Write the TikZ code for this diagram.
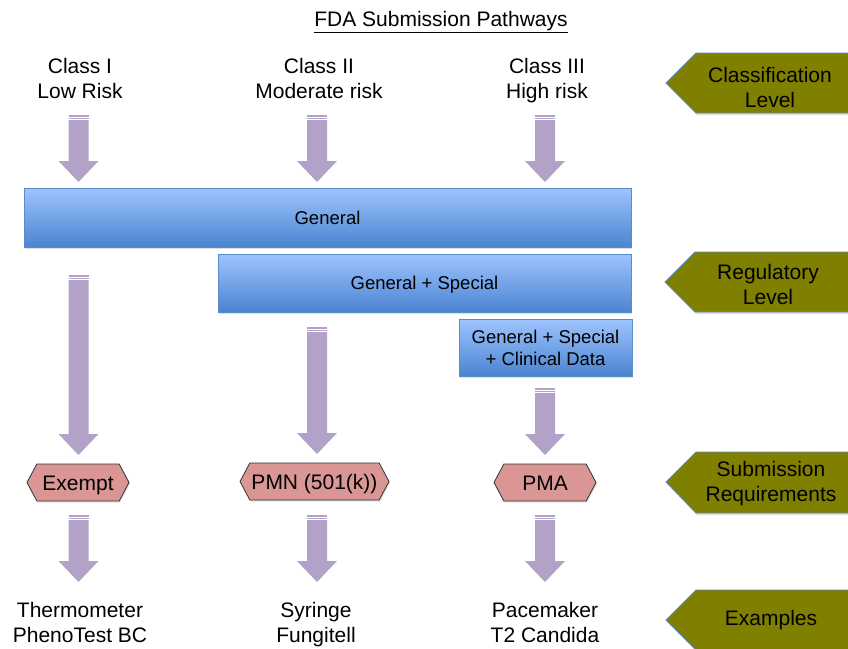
\documentclass[tikz,border=0pt]{standalone}
\usepackage{fontspec}
\setmainfont{Liberation Sans}
\usetikzlibrary{shapes.symbols,shadows}

\definecolor{arrowlav}{HTML}{B3A2C7}
\definecolor{hexpink}{HTML}{D99694}
\definecolor{levelolive}{HTML}{7F7F00}
\definecolor{bluetop}{HTML}{9EC4FE}
\definecolor{bluebot}{HTML}{4A84D0}
\definecolor{blueedge}{HTML}{5B8BC8}

\tikzset{
  boxlabel/.style={align=center, inner sep=0pt, font=\fontsize{21}{25}\selectfont},
  bluebox/.style={draw=blueedge, line width=0.8pt, top color=bluetop, bottom color=bluebot,
    inner sep=0pt, align=center, font=\fontsize{18.5}{22}\selectfont,
    drop shadow={shadow xshift=1pt, shadow yshift=-1.5pt, opacity=0.25}},
  hexbox/.style={draw=black!80, line width=0.8pt, fill=hexpink, signal, signal to=east and west,
    signal from=nowhere, signal pointer angle=124, minimum height=37pt, inner sep=0pt,
    text height=15pt, text depth=0pt, font=\fontsize{21}{25}\selectfont,
    drop shadow={shadow xshift=1pt, shadow yshift=-1.5pt, opacity=0.25}},
  levelbox/.style={draw=blueedge, line width=0.8pt, fill=levelolive,
    drop shadow={shadow xshift=1pt, shadow yshift=-2pt, opacity=0.25}}
}

% two lines of even height
\newcommand{\twolines}[2]{\strut#1\\\strut#2}

% fat striped arrow: x, top, tip
\newcommand{\fatarrow}[3]{%
  \fill[arrowlav] (#1-10,#2) rectangle (#1+10,#2+1.8);
  \fill[arrowlav] (#1-10,#2+2.6) rectangle (#1+10,#2+4.4);
  \fill[arrowlav] (#1-10,#2+5.2) -- (#1+10,#2+5.2) -- (#1+10,#3-21) -- (#1+20,#3-21)
    -- (#1,#3) -- (#1-20,#3-21) -- (#1-10,#3-21) -- cycle;
}

\begin{document}
\begin{tikzpicture}[x=1pt,y=-1pt]
  \useasboundingbox (0,0) rectangle (848,648);
  \clip (0,0) rectangle (848,648);

  % title
  \node[boxlabel] (title) at (441,22.5) {\underline{FDA Submission Pathways}};

  % classes
  \node[boxlabel] (cls1) at (80,81) {\twolines{Class I}{Low Risk}};
  \node[boxlabel] (cls2) at (319,81) {\twolines{Class II}{Moderate risk}};
  \node[boxlabel] (cls3) at (547,81) {\twolines{Class III}{High risk}};

  % arrows
  \fatarrow{78.5}{115}{182}
  \fatarrow{317}{115}{182}
  \fatarrow{545}{115}{182}
  \fatarrow{78.5}{275}{455}
  \fatarrow{317}{327}{454}
  \fatarrow{545}{388}{455}
  \fatarrow{78.5}{515}{582}
  \fatarrow{317}{515}{582}
  \fatarrow{545}{515}{582}

  % regulatory boxes
  \node[bluebox, minimum width=607pt, minimum height=59pt, text height=13.3pt, text depth=0pt] (gen) at (327.5,217.5) {General};
  \node[bluebox, minimum width=413pt, minimum height=58pt, text height=13.3pt, text depth=0pt] (genspec) at (424.5,283) {General + Special};
  \node[bluebox, minimum width=173pt, minimum height=57pt] (genclin) at (545.5,347.5) {General + Special\\+ Clinical Data};

  % submissions
  \node[hexbox, minimum width=102pt] (exempt) at (78,482.5) {Exempt};
  \node[hexbox, minimum width=149pt] (pmn) at (314.5,481.5) {PMN (501(k))};
  \node[hexbox, minimum width=102pt] (pma) at (545,482.5) {PMA};

  % examples
  \node[boxlabel] (ex1) at (80,625) {\twolines{Thermometer}{PhenoTest BC}};
  \node[boxlabel] (ex2) at (316,625) {\twolines{Syringe}{Fungitell}};
  \node[boxlabel] (ex3) at (545,625) {\twolines{Pacemaker}{T2 Candida}};

  % level tags
  \draw[levelbox] (666,83) -- (696,53) -- (860,53) -- (860,113) -- (696,113) -- cycle;
  \draw[levelbox] (665,282) -- (695,252) -- (860,252) -- (860,312) -- (695,312) -- cycle;
  \draw[levelbox] (666,482) -- (696,452) -- (860,452) -- (860,513) -- (696,513) -- cycle;
  \draw[levelbox] (666,620) -- (696,590) -- (860,590) -- (860,650) -- (696,650) -- cycle;
  \node[boxlabel] (lvlcls) at (770,90) {\twolines{Classification}{Level}};
  \node[boxlabel] (lvlreg) at (768,287) {\twolines{Regulatory}{Level}};
  \node[boxlabel] (lvlsub) at (771,484) {\twolines{Submission}{Requirements}};
  \node[boxlabel] (lvlex) at (771,620.5) {\strut Examples};
\end{tikzpicture}
\end{document}
